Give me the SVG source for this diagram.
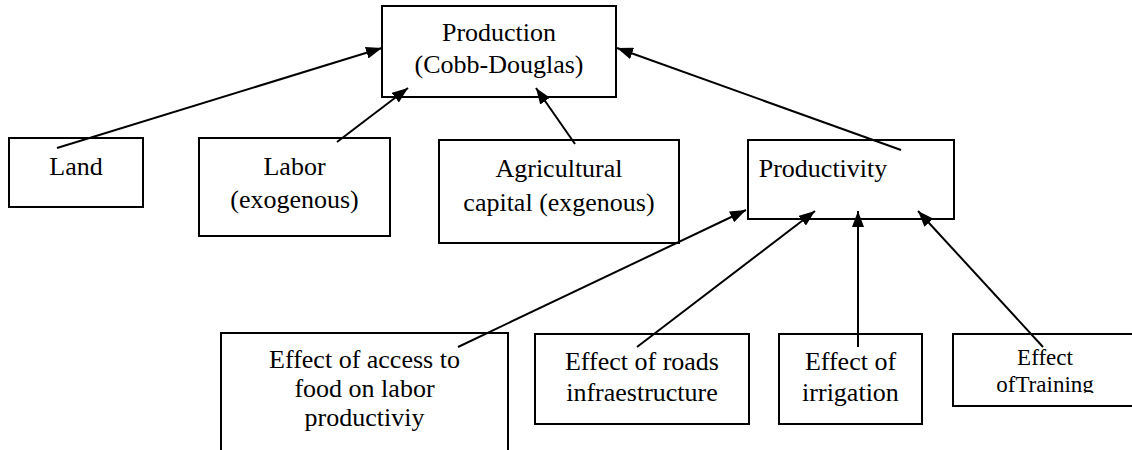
<svg xmlns="http://www.w3.org/2000/svg" width="1132" height="450" viewBox="0 0 1132 450">
  <style>
    .box { fill: #ffffff; stroke: #000000; stroke-width: 2; }
    .lbl { font-size: 26px; fill: #000000; text-anchor: middle; }
    .sm { font-size: 23px; }
    .edge { stroke: #000000; stroke-width: 2; fill: none; marker-end: url(#arrow); }
  </style>
  <defs>
    <marker id="arrow" viewBox="0 0 16 12" refX="16" refY="6" markerWidth="16" markerHeight="12" markerUnits="userSpaceOnUse" orient="auto">
      <path d="M0,0 L16,6 L0,12 z" fill="#000000"/>
    </marker>
    <clipPath id="clipTrain">
      <rect x="953" y="334" width="180" height="59"/>
    </clipPath>
  </defs>
  <rect width="1132" height="450" fill="#ffffff"/>

  <g font-family="Liberation Serif, serif">
  <g id="production">
    <rect class="box" x="382" y="6" width="234" height="91"/>
    <text class="lbl" x="499" y="41">Production</text>
    <text class="lbl" x="499" y="73">(Cobb-Douglas)</text>
  </g>
  <g id="land">
    <rect class="box" x="9" y="138" width="134" height="69"/>
    <text class="lbl" x="76" y="175">Land</text>
  </g>
  <g id="labor">
    <rect class="box" x="199" y="138" width="191" height="98"/>
    <text class="lbl" x="294.5" y="175">Labor</text>
    <text class="lbl" x="294.5" y="208">(exogenous)</text>
  </g>
  <g id="capital">
    <rect class="box" x="439" y="140" width="240" height="103"/>
    <text class="lbl" x="559" y="177">Agricultural</text>
    <text class="lbl" x="559" y="211">capital (exgenous)</text>
  </g>
  <g id="productivity">
    <rect class="box" x="748" y="140" width="206" height="79"/>
    <text class="lbl" x="823" y="177">Productivity</text>
  </g>
  <g id="food">
    <rect class="box" x="221" y="333" width="287" height="130"/>
    <text class="lbl" x="364.5" y="368">Effect of access to</text>
    <text class="lbl" x="364.5" y="397">food on labor</text>
    <text class="lbl" x="364.5" y="426">productiviy</text>
  </g>
  <g id="roads">
    <rect class="box" x="535" y="334" width="214" height="90"/>
    <text class="lbl" x="642" y="370">Effect of roads</text>
    <text class="lbl" x="642" y="401">infraestructure</text>
  </g>
  <g id="irrigation">
    <rect class="box" x="779" y="334" width="143" height="90"/>
    <text class="lbl" x="850.5" y="370">Effect of</text>
    <text class="lbl" x="850.5" y="401">irrigation</text>
  </g>
  <g id="training">
    <rect class="box" x="953" y="334" width="190" height="72"/>
    <g clip-path="url(#clipTrain)">
      <text class="lbl sm" x="1045" y="365">Effect</text>
      <text class="lbl sm" x="1045" y="392">ofTraining</text>
    </g>
  </g>
  </g>

  <g id="connectors">
    <line class="edge" x1="57" y1="148" x2="382" y2="48"/>
    <line class="edge" x1="337" y1="142" x2="408" y2="88"/>
    <line class="edge" x1="575" y1="144" x2="536" y2="88"/>
    <line class="edge" x1="901" y1="150" x2="617" y2="48"/>
    <line class="edge" x1="458" y1="347" x2="746" y2="210"/>
    <line class="edge" x1="637" y1="347" x2="815" y2="211"/>
    <line class="edge" x1="858" y1="347" x2="858" y2="211"/>
    <line class="edge" x1="1043" y1="347" x2="918" y2="211"/>
  </g>
</svg>
